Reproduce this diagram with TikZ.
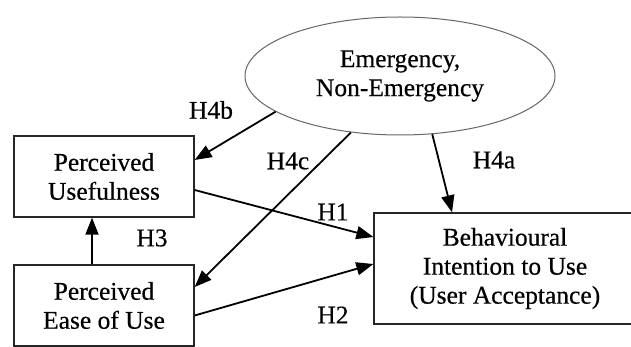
\documentclass[tikz,border=0pt]{standalone}
\usepackage{fontspec}
\setmainfont{Liberation Serif}[FakeBold=0.4]
\usetikzlibrary{shapes.geometric,arrows.meta}

\begin{document}
\begin{tikzpicture}[x=1pt,y=-1pt,
	every node/.style={font=\fontsize{25.5}{29}\selectfont},
	construct/.style={draw=black!85,rectangle,align=center,inner sep=0pt,line width=1.3pt},
	moderator/.style={draw=black!60,ellipse,align=center,inner sep=0pt,line width=1pt},
	hyp/.style={inner sep=0pt},
	link/.style={-{Triangle[length=17pt,width=13pt]},line width=1.8pt}]
		\useasboundingbox (0,0) rectangle (631,347);

		\node[moderator,minimum width=310pt,minimum height=118pt] (emer) at (400,76) {Emergency,\\Non-Emergency};
		\node[construct,minimum width=180pt,minimum height=81pt] (pu) at (104,176.5) {Perceived\\Usefulness};
		\node[construct,minimum width=180pt,minimum height=81pt] (peu) at (104,305.5) {Perceived\\Ease of Use};
		\node[construct,minimum width=262pt,minimum height=111pt] (bi) at (505,268.5) {Behavioural\\Intention to Use\\(User Acceptance)};

		\node[hyp] (h4b) at (211,110) {H4b};
		\node[hyp] (h4c) at (288,161) {H4c};
		\node[hyp] (h4a) at (494,160) {H4a};
		\node[hyp] (h1) at (333,212) {H1};
		\node[hyp] (h3) at (152,238) {H3};
		\node[hyp] (h2) at (333,315) {H2};

		\draw[link] (emer.196) -- ([yshift=16.5pt]pu.east);
		\draw[link] (emer.229) -- ([yshift=18.5pt]peu.east);
		\draw[link] (emer.299) -- ([xshift=-53pt]bi.north);
		\draw[link] ([yshift=-13.5pt]pu.east) -- ([yshift=31.5pt]bi.west);
		\draw[link] ([yshift=-10pt]peu.east) -- ([yshift=4.5pt]bi.west);
		\draw[link] ([xshift=-12pt]peu.north) -- ([xshift=-12pt]pu.south);
\end{tikzpicture}
\end{document}
